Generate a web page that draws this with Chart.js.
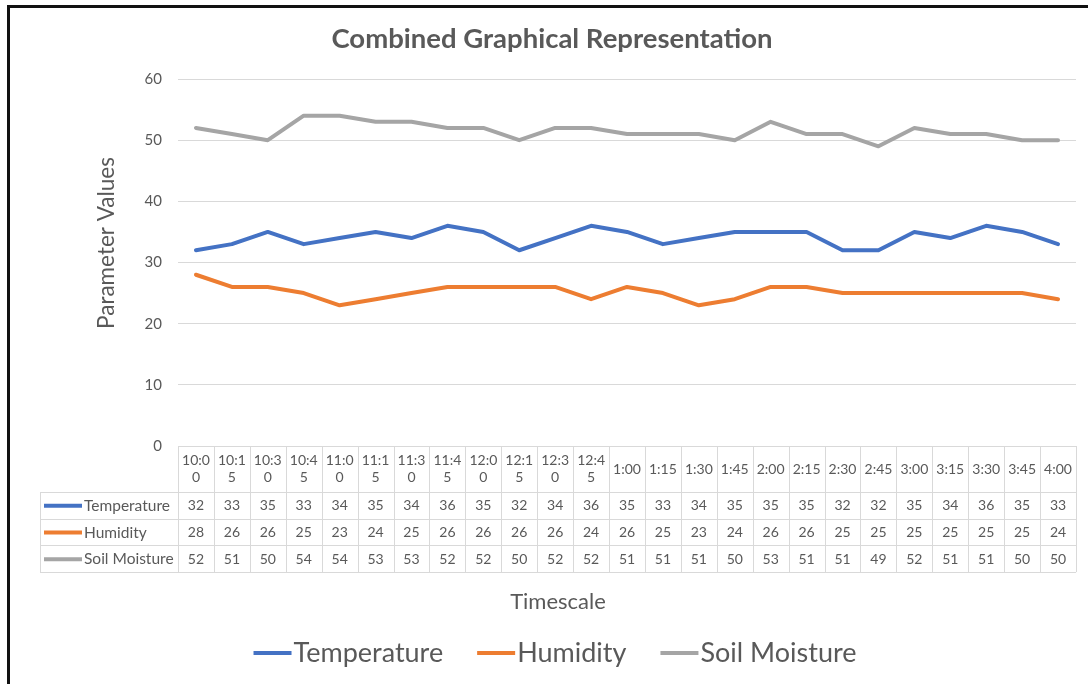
<!DOCTYPE html>
<html>
<head>
<meta charset="utf-8">
<script src="https://cdn.jsdelivr.net/npm/chart.js@4/dist/chart.umd.min.js"></script>
<style>
  html, body { margin: 0; padding: 0; background: #ffffff; }
  #c { display: block; }
</style>
</head>
<body>
<canvas id="c" width="1088" height="684"></canvas>
<script>
const categories = ['10:00','10:15','10:30','10:45','11:00','11:15','11:30','11:45','12:00','12:15','12:30','12:45',
                    '1:00','1:15','1:30','1:45','2:00','2:15','2:30','2:45','3:00','3:15','3:30','3:45','4:00'];
const temperature = [32,33,35,33,34,35,34,36,35,32,34,36,35,33,34,35,35,35,32,32,35,34,36,35,33];
const humidity    = [28,26,26,25,23,24,25,26,26,26,26,24,26,25,23,24,26,26,25,25,25,25,25,25,24];
const soilMoisture= [52,51,50,54,54,53,53,52,52,50,52,52,51,51,51,50,53,51,51,49,52,51,51,50,50];
const seriesNames = ['Temperature','Humidity','Soil Moisture'];
const seriesColors = ['#4472C4','#ED7D31','#A5A5A5'];
const yTicks = [0,10,20,30,40,50,60];
const chartTitle = 'Combined Graphical Representation';
const yTitle = 'Parameter Values';
const xTitle = 'Timescale';

const FONT = 'Lato, "Open Sans", sans-serif';
const TEXT = '#595959';
const GRID = '#d9d9d9';

const extras = {
  id: 'extras',
  beforeDraw(chart) {
    const ctx = chart.ctx;
    ctx.save();
    ctx.fillStyle = '#ffffff';
    ctx.fillRect(0, 0, chart.width, chart.height);
    ctx.restore();
  },
  afterDraw(chart) {
    const { ctx, chartArea: ca, scales: { x, y } } = chart;
    const n = categories.length;
    const cellW = (ca.right - ca.left) / n;
    ctx.save();

    // Chart title
    ctx.fillStyle = TEXT;
    ctx.font = 'bold 27.5px ' + FONT;
    ctx.textAlign = 'center';
    ctx.textBaseline = 'middle';
    ctx.fillText(chartTitle, 552, 39);

    // Y axis title
    ctx.save();
    ctx.translate(107, 243);
    ctx.rotate(-Math.PI / 2);
    ctx.font = '22.5px ' + FONT;
    ctx.fillText(yTitle, 0, 0);
    ctx.restore();

    // Data table
    const top = y.getPixelForValue(0);
    const headBottom = 492;
    const rowH = 26.7;
    const legendLeft = 40;
    const rows = [temperature, humidity, soilMoisture];
    const tableBottom = headBottom + rowH * rows.length;

    ctx.strokeStyle = GRID;
    ctx.lineWidth = 1;
    ctx.beginPath();
    ctx.moveTo(ca.left, Math.round(top) + 0.5);
    ctx.lineTo(ca.right, Math.round(top) + 0.5);
    for (let r = 0; r <= rows.length; r++) {
      const yy = Math.round(headBottom + r * rowH) + 0.5;
      ctx.moveTo(legendLeft, yy);
      ctx.lineTo(ca.right, yy);
    }
    for (let i = 0; i <= n; i++) {
      const xx = Math.round(x.getPixelForValue(i) - cellW / 2) + 0.5;
      ctx.moveTo(xx, top);
      ctx.lineTo(xx, tableBottom);
    }
    ctx.moveTo(legendLeft + 0.5, headBottom);
    ctx.lineTo(legendLeft + 0.5, tableBottom);
    ctx.stroke();

    ctx.font = '14px ' + FONT;
    ctx.fillStyle = TEXT;
    ctx.textAlign = 'center';
    ctx.textBaseline = 'middle';
    const headMid = (top + headBottom) / 2;
    categories.forEach((lab, i) => {
      const cx = x.getPixelForValue(i);
      const maxW = cellW - 5;
      let lines = [];
      if (ctx.measureText(lab).width <= maxW) {
        lines = [lab];
      } else {
        let cur = '';
        for (const ch of lab) {
          if (ctx.measureText(cur + ch).width > maxW && cur) { lines.push(cur); cur = ch; }
          else cur += ch;
        }
        if (cur) lines.push(cur);
      }
      const lh = 17;
      lines.forEach((ln, k) => {
        ctx.fillText(ln, cx, headMid + (k - (lines.length - 1) / 2) * lh);
      });
    });

    rows.forEach((vals, r) => {
      const cy = headBottom + r * rowH + rowH / 2 + 0.5;
      ctx.font = '14px ' + FONT;
      ctx.textAlign = 'center';
      vals.forEach((v, i) => {
        ctx.fillText(String(v), x.getPixelForValue(i), cy);
      });
      ctx.strokeStyle = seriesColors[r];
      ctx.lineWidth = 4;
      ctx.beginPath();
      ctx.moveTo(44, cy);
      ctx.lineTo(82, cy);
      ctx.stroke();
      ctx.textAlign = 'left';
      ctx.font = '15.5px ' + FONT;
      ctx.fillText(seriesNames[r], 84, cy);
    });

    // X axis title
    ctx.textAlign = 'center';
    ctx.font = '22px ' + FONT;
    ctx.fillText(xTitle, 558, 602);

    // Bottom legend
    ctx.font = '27px ' + FONT;
    const keyLen = 38, keyGap = 2, itemGap = 34;
    const widths = seriesNames.map(s => keyLen + keyGap + ctx.measureText(s).width);
    const total = widths.reduce((a, b) => a + b, 0) + itemGap * (seriesNames.length - 1);
    let lx = 555 - total / 2;
    const ly = 653;
    ctx.textAlign = 'left';
    seriesNames.forEach((s, i) => {
      ctx.strokeStyle = seriesColors[i];
      ctx.lineWidth = 4;
      ctx.beginPath();
      ctx.moveTo(lx, ly);
      ctx.lineTo(lx + keyLen, ly);
      ctx.stroke();
      ctx.fillStyle = TEXT;
      ctx.fillText(s, lx + keyLen + keyGap, ly);
      lx += widths[i] + itemGap;
    });

    // Frame
    ctx.strokeStyle = '#111111';
    ctx.lineWidth = 3;
    ctx.beginPath();
    ctx.moveTo(8.5, chart.height);
    ctx.lineTo(8.5, 6.5);
    ctx.lineTo(chart.width, 6.5);
    ctx.stroke();

    ctx.restore();
  }
};

new Chart(document.getElementById('c'), {
  type: 'line',
  data: {
    labels: categories,
    datasets: [
      { label: seriesNames[0], data: temperature, borderColor: seriesColors[0], backgroundColor: seriesColors[0] },
      { label: seriesNames[1], data: humidity, borderColor: seriesColors[1], backgroundColor: seriesColors[1] },
      { label: seriesNames[2], data: soilMoisture, borderColor: seriesColors[2], backgroundColor: seriesColors[2] }
    ]
  },
  options: {
    responsive: false,
    animation: false,
    layout: { padding: { left: 118, right: 12, top: 79, bottom: 238 } },
    elements: {
      point: { radius: 0, hoverRadius: 0 },
      line: { borderWidth: 4, tension: 0, borderJoinStyle: 'round', borderCapStyle: 'round' }
    },
    plugins: { legend: { display: false }, title: { display: false }, tooltip: { enabled: false } },
    scales: {
      x: { type: 'category', offset: true, display: false },
      y: {
        min: 0, max: 60,
        afterFit(scale) { scale.width = 60; },
        afterBuildTicks(scale) { scale.ticks = yTicks.map(v => ({ value: v })); },
        grid: { color: GRID, lineWidth: 1, drawTicks: false },
        border: { display: false },
        ticks: { color: TEXT, font: { family: FONT, size: 15 }, padding: 16 }
      }
    }
  },
  plugins: [extras]
});
</script>
</body>
</html>
